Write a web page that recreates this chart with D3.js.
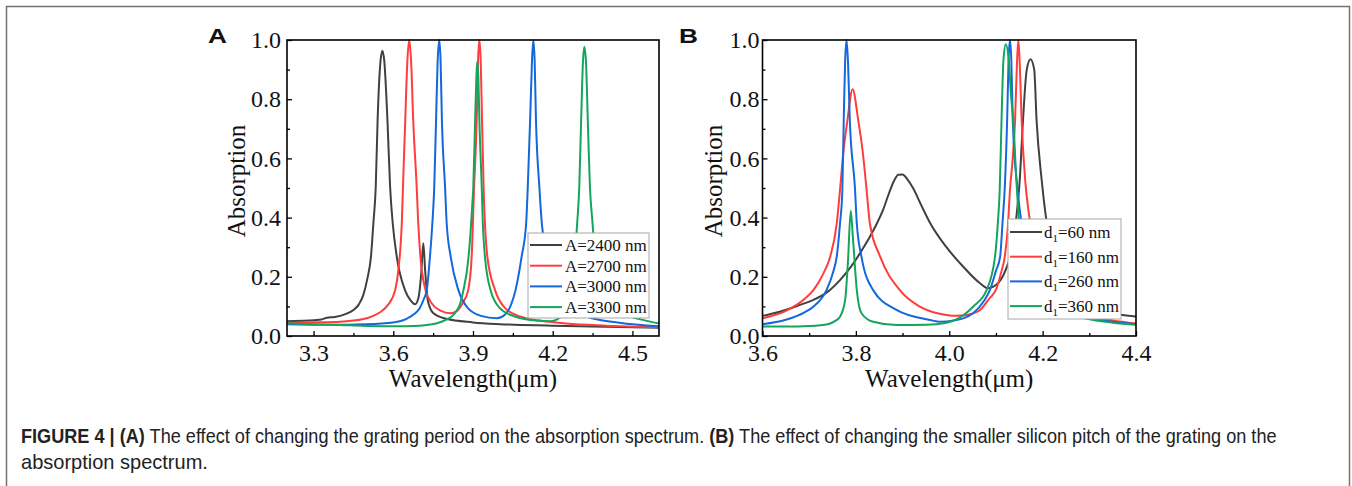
<!DOCTYPE html>
<html>
<head>
<meta charset="utf-8">
<script src="https://cdn.jsdelivr.net/npm/d3@7"></script>
<style>
  html, body { margin: 0; padding: 0; background: #fff; }
  svg { display: block; }
</style>
</head>
<body>
<svg id="chart" width="1352" height="486"></svg>
<script>
// ---------- DATA ----------
// Panel A: wavelength (µm), absorption
const seriesNamesA = ["A=2400 nm", "A=2700 nm", "A=3000 nm", "A=3300 nm"];
const a2400 = [[3.20,0.050],[3.28,0.052],[3.33,0.056],[3.35,0.062],[3.38,0.064],[3.42,0.074],[3.45,0.088],[3.47,0.106],[3.487,0.138],[3.502,0.192],[3.516,0.268],[3.525,0.380],[3.534,0.504],[3.541,0.730],[3.552,0.930],[3.559,0.964],[3.566,0.930],[3.578,0.730],[3.588,0.504],[3.598,0.380],[3.613,0.268],[3.644,0.155],[3.665,0.120],[3.682,0.107],[3.695,0.130],[3.705,0.210],[3.713,0.313],[3.720,0.220],[3.730,0.120],[3.750,0.078],[3.800,0.058],[3.900,0.046],[4.000,0.040],[4.200,0.035],[4.400,0.031],[4.600,0.028]];
const a2700 = [[3.20,0.045],[3.30,0.046],[3.40,0.048],[3.45,0.052],[3.50,0.060],[3.55,0.080],[3.58,0.105],[3.607,0.155],[3.620,0.230],[3.627,0.300],[3.632,0.380],[3.636,0.490],[3.645,0.730],[3.653,0.930],[3.660,1.000],[3.667,0.930],[3.675,0.730],[3.688,0.504],[3.694,0.380],[3.702,0.268],[3.720,0.160],[3.745,0.110],[3.780,0.085],[3.813,0.077],[3.840,0.085],[3.860,0.110],[3.882,0.155],[3.895,0.268],[3.904,0.500],[3.914,0.730],[3.919,0.930],[3.924,1.000],[3.929,0.930],[3.934,0.730],[3.940,0.500],[3.954,0.268],[3.983,0.155],[4.020,0.095],[4.080,0.065],[4.150,0.052],[4.250,0.042],[4.400,0.035],[4.600,0.030]];
const a3000 = [[3.20,0.040],[3.35,0.038],[3.50,0.040],[3.60,0.046],[3.65,0.058],[3.68,0.075],[3.70,0.095],[3.715,0.125],[3.726,0.155],[3.738,0.268],[3.747,0.380],[3.754,0.500],[3.761,0.730],[3.767,0.930],[3.773,1.000],[3.778,0.930],[3.783,0.730],[3.795,0.500],[3.801,0.380],[3.816,0.268],[3.845,0.155],[3.880,0.095],[3.930,0.068],[3.990,0.060],[4.020,0.072],[4.045,0.110],[4.060,0.155],[4.083,0.268],[4.100,0.380],[4.106,0.500],[4.115,0.730],[4.122,0.930],[4.127,1.000],[4.132,0.930],[4.137,0.730],[4.150,0.500],[4.159,0.380],[4.177,0.268],[4.209,0.155],[4.260,0.095],[4.330,0.065],[4.450,0.045],[4.600,0.033]];
const a3300 = [[3.20,0.043],[3.30,0.040],[3.40,0.037],[3.50,0.034],[3.60,0.033],[3.70,0.035],[3.76,0.042],[3.80,0.055],[3.83,0.075],[3.850,0.105],[3.864,0.155],[3.880,0.240],[3.890,0.340],[3.897,0.440],[3.901,0.500],[3.908,0.730],[3.913,0.880],[3.916,0.927],[3.920,0.880],[3.924,0.730],[3.933,0.500],[3.937,0.380],[3.945,0.268],[3.966,0.155],[4.000,0.095],[4.060,0.065],[4.140,0.052],[4.190,0.050],[4.220,0.058],[4.245,0.090],[4.265,0.155],[4.283,0.268],[4.292,0.380],[4.300,0.504],[4.307,0.730],[4.314,0.930],[4.319,0.977],[4.325,0.930],[4.332,0.730],[4.340,0.504],[4.350,0.380],[4.359,0.268],[4.385,0.155],[4.420,0.100],[4.480,0.070],[4.550,0.052],[4.600,0.042]];

// Panel B
const seriesNamesB = ["60", "160", "260", "360"];
const b60 = [[3.60,0.068],[3.637,0.082],[3.680,0.105],[3.709,0.122],[3.740,0.150],[3.766,0.189],[3.790,0.235],[3.809,0.280],[3.830,0.335],[3.845,0.380],[3.858,0.425],[3.870,0.478],[3.881,0.522],[3.891,0.545],[3.900,0.546],[3.910,0.530],[3.923,0.498],[3.940,0.442],[3.959,0.382],[3.994,0.300],[4.030,0.234],[4.066,0.178],[4.083,0.161],[4.100,0.172],[4.120,0.220],[4.135,0.300],[4.145,0.420],[4.151,0.527],[4.158,0.730],[4.166,0.900],[4.174,0.935],[4.182,0.900],[4.187,0.730],[4.198,0.527],[4.209,0.380],[4.230,0.250],[4.260,0.160],[4.300,0.110],[4.350,0.078],[4.400,0.066]];
const b160 = [[3.60,0.060],[3.65,0.085],[3.690,0.125],[3.709,0.155],[3.730,0.210],[3.745,0.268],[3.759,0.380],[3.766,0.493],[3.773,0.618],[3.782,0.730],[3.793,0.834],[3.805,0.730],[3.815,0.618],[3.823,0.493],[3.830,0.380],[3.852,0.268],[3.894,0.155],[3.937,0.099],[3.994,0.071],[4.015,0.068],[4.040,0.072],[4.066,0.088],[4.085,0.125],[4.101,0.160],[4.112,0.220],[4.119,0.268],[4.126,0.380],[4.130,0.493],[4.136,0.600],[4.141,0.730],[4.145,0.920],[4.148,1.000],[4.151,0.920],[4.155,0.730],[4.163,0.520],[4.170,0.420],[4.176,0.360],[4.190,0.260],[4.215,0.160],[4.250,0.100],[4.300,0.068],[4.350,0.052],[4.400,0.042]];
const b260 = [[3.60,0.040],[3.65,0.055],[3.690,0.080],[3.709,0.099],[3.737,0.155],[3.752,0.220],[3.759,0.268],[3.766,0.380],[3.771,0.490],[3.774,0.730],[3.777,0.930],[3.780,1.000],[3.783,0.930],[3.787,0.730],[3.798,0.500],[3.802,0.380],[3.812,0.268],[3.837,0.155],[3.887,0.088],[3.959,0.054],[3.980,0.048],[4.010,0.052],[4.051,0.077],[4.075,0.120],[4.087,0.155],[4.100,0.220],[4.109,0.268],[4.114,0.380],[4.119,0.504],[4.124,0.730],[4.127,0.930],[4.130,1.000],[4.133,0.930],[4.136,0.730],[4.146,0.500],[4.155,0.380],[4.170,0.260],[4.200,0.150],[4.240,0.090],[4.300,0.060],[4.350,0.048],[4.400,0.040]];
const b360 = [[3.60,0.032],[3.65,0.032],[3.70,0.034],[3.740,0.040],[3.755,0.050],[3.766,0.065],[3.777,0.122],[3.783,0.250],[3.789,0.423],[3.794,0.324],[3.802,0.155],[3.812,0.077],[3.837,0.048],[3.887,0.037],[3.950,0.038],[3.994,0.045],[4.030,0.070],[4.051,0.099],[4.080,0.155],[4.098,0.268],[4.104,0.380],[4.108,0.490],[4.112,0.730],[4.116,0.930],[4.121,0.986],[4.127,0.940],[4.133,0.800],[4.137,0.730],[4.144,0.520],[4.150,0.380],[4.165,0.250],[4.190,0.150],[4.230,0.090],[4.290,0.060],[4.350,0.045],[4.400,0.038]];

const ticksA = [3.3, 3.6, 3.9, 4.2, 4.5];
const minorA = [3.45, 3.75, 4.05, 4.35];
const ticksB = [3.6, 3.8, 4.0, 4.2, 4.4];
const minorB = [3.7, 3.9, 4.1, 4.3];
const ticksY = [0, 0.2, 0.4, 0.6, 0.8, 1.0];
const minorY = [0.1, 0.3, 0.5, 0.7, 0.9];
const colors = ["#404040", "#ff3d3d", "#1467dc", "#14a55c"];

const captionLine2 = "absorption spectrum.";

// ---------- DRAW ----------
const svg = d3.select("#chart");
svg.append("rect").attr("width", 1352).attr("height", 486).attr("fill", "#fff");
svg.append("rect").attr("x", 6.5).attr("y", 6.5).attr("width", 1343).attr("height", 520)
  .attr("fill", "none").attr("stroke", "#737373").attr("stroke-width", 1.5);

const serif = "'Liberation Serif', 'Times New Roman', serif";
const sans = "'Liberation Sans', Arial, sans-serif";

function panel(cfg) {
  const x = d3.scaleLinear().domain(cfg.domain).range([cfg.left, cfg.right]);
  const y = d3.scaleLinear().domain([0, 1]).range([cfg.bottom, cfg.top]);
  const g = svg.append("g");

  const clipId = "clip" + cfg.id;
  g.append("clipPath").attr("id", clipId).append("rect")
    .attr("x", cfg.left).attr("y", cfg.top - 2).attr("width", cfg.right - cfg.left).attr("height", cfg.bottom - cfg.top + 2);

  const line = d3.line().x(d => x(d[0])).y(d => y(d[1])).curve(d3.curveMonotoneX);
  const lg = g.append("g").attr("clip-path", `url(#${clipId})`);
  cfg.series.forEach((s, i) => {
    lg.append("path").datum(s).attr("d", line).attr("fill", "none")
      .attr("stroke", colors[i]).attr("stroke-width", 2).attr("stroke-linejoin", "round");
  });

  // axes
  g.append("g").attr("transform", `translate(0,${cfg.bottom})`)
    .call(d3.axisBottom(x).tickValues(cfg.ticks).tickFormat(d3.format(".1f")).tickSize(-5).tickPadding(8));
  g.append("g").attr("transform", `translate(0,${cfg.bottom})`)
    .call(d3.axisBottom(x).tickValues(cfg.minor).tickFormat("").tickSize(-3));
  g.append("g").attr("transform", `translate(${cfg.left},0)`)
    .call(d3.axisLeft(y).tickValues(ticksY).tickFormat(d3.format(".1f")).tickSize(-5).tickPadding(cfg.ypad));
  g.append("g").attr("transform", `translate(${cfg.left},0)`)
    .call(d3.axisLeft(y).tickValues(minorY).tickFormat("").tickSize(-3));
  g.selectAll(".domain").remove();
  g.selectAll(".tick line").attr("stroke", "#000").attr("stroke-width", 1.3);
  g.selectAll(".tick text").attr("font-family", serif).attr("font-size", 24).attr("fill", "#111");

  // frame
  g.append("rect").attr("x", cfg.left).attr("y", cfg.top).attr("width", cfg.right - cfg.left)
    .attr("height", cfg.bottom - cfg.top).attr("fill", "none").attr("stroke", "#000").attr("stroke-width", 1.6);

  // titles
  g.append("text").attr("x", (cfg.left + cfg.right) / 2).attr("y", 387).attr("text-anchor", "middle")
    .attr("font-family", serif).attr("font-size", 25).attr("fill", "#111").text("Wavelength(μm)");
  g.append("text").attr("transform", `translate(${cfg.ytitleX},181) rotate(-90)`).attr("text-anchor", "middle")
    .attr("font-family", serif).attr("font-size", 25).attr("fill", "#111").text("Absorption");

  // panel letter
  g.append("text").attr("transform", `translate(${cfg.letterX},43) scale(1.25,1)`)
    .attr("font-family", sans).attr("font-weight", "bold").attr("font-size", 21).attr("fill", "#111").text(cfg.letter);

  // legend
  const L = cfg.legend;
  const leg = g.append("g");
  leg.append("rect").attr("x", L.x).attr("y", L.y).attr("width", L.w).attr("height", L.h)
    .attr("fill", "#fff").attr("stroke", "#a8a8a8").attr("stroke-width", 1);
  cfg.names.forEach((n, i) => {
    const cy = L.y0 + i * L.dy;
    leg.append("line").attr("x1", L.lx1).attr("x2", L.lx2).attr("y1", cy).attr("y2", cy)
      .attr("stroke", colors[i]).attr("stroke-width", 2);
    const t = leg.append("text").attr("x", L.tx).attr("y", cy + 6)
      .attr("font-family", serif).attr("font-size", 17).attr("fill", "#111");
    if (cfg.sub) {
      t.append("tspan").text("d");
      t.append("tspan").attr("font-size", 11).attr("dy", 4).text("1");
      t.append("tspan").attr("dy", -4).text("=" + n + " nm");
    } else {
      t.text(n);
    }
  });
}

panel({
  id: "A", letter: "A", letterX: 208, domain: [3.2, 4.6], left: 287, right: 659, top: 40, bottom: 336,
  ticks: ticksA, minor: minorA, ypad: 6, ytitleX: 245,
  series: [a2400, a2700, a3000, a3300], names: seriesNamesA, sub: false,
  legend: { x: 528, y: 233, w: 121, h: 85, y0: 245, dy: 20.7, lx1: 530, lx2: 562, tx: 565 }
});
panel({
  id: "B", letter: "B", letterX: 679, domain: [3.6, 4.4], left: 762.5, right: 1136, top: 40, bottom: 336,
  ticks: ticksB, minor: minorB, ypad: 3, ytitleX: 722,
  series: [b60, b160, b260, b360], names: seriesNamesB, sub: true,
  legend: { x: 1008, y: 219, w: 113, h: 100, y0: 232, dy: 24.7, lx1: 1010, lx2: 1042, tx: 1044 }
});

// caption
const cap1 = svg.append("text").attr("font-family", sans).attr("font-size", 20).attr("fill", "#222");
cap1.append("tspan").attr("font-weight", "bold").text("FIGURE 4 | (A)");
cap1.append("tspan").text(" The effect of changing the grating period on the absorption spectrum. ");
cap1.append("tspan").attr("font-weight", "bold").text("(B)");
cap1.append("tspan").text(" The effect of changing the smaller silicon pitch of the grating on the");
const cap2 = svg.append("text").attr("font-family", sans).attr("font-size", 20).attr("fill", "#222").text(captionLine2);
const w1 = cap1.node().getBBox().width;
const w2 = cap2.node().getBBox().width;
const sx1 = 1256 / w1, sx2 = 187 / w2;
cap1.attr("transform", `translate(21,443) scale(${sx1},1)`);
cap2.attr("transform", `translate(21,469) scale(${sx2},1)`);
</script>
</body>
</html>
